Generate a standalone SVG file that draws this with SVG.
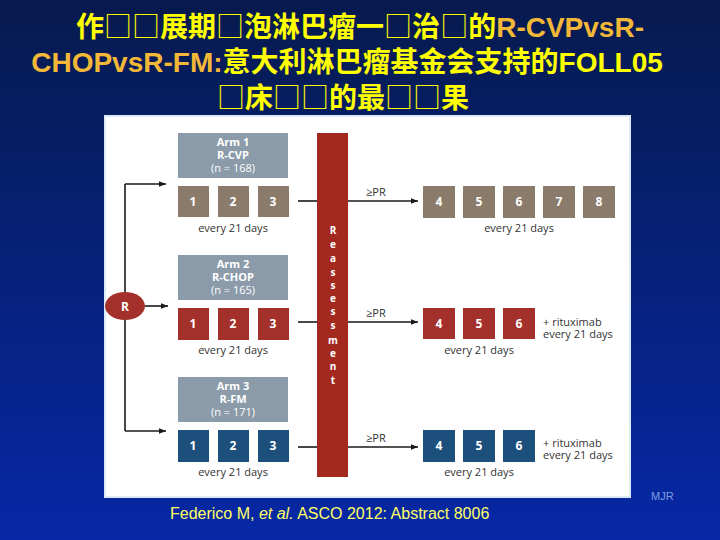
<svg xmlns="http://www.w3.org/2000/svg" width="720" height="540" viewBox="0 0 720 540">
<defs>
<linearGradient id="bg" x1="0" y1="0" x2="0" y2="1">
<stop offset="0" stop-color="#071a4e"/>
<stop offset="1" stop-color="#0628a6"/>
</linearGradient>
<marker id="arr" viewBox="0 0 10 10" refX="10" refY="5" markerWidth="7" markerHeight="7" markerUnits="userSpaceOnUse" orient="auto">
<path d="M0,1 L10,5 L0,9 Z" fill="#1a1a1a"/>
</marker>
<style>
.title{font-family:"Liberation Sans","Noto Sans CJK SC",sans-serif;font-size:28px;font-weight:bold;fill:#ffff00;text-anchor:middle}
.bx{font-family:"Noto Sans CJK SC",sans-serif;font-weight:normal}
.or{fill:#f4b838}
.arm{fill:#8b9ba9}
.armt{font-family:"Open Sans","Noto Sans",sans-serif;font-size:11px;fill:#ffffff;text-anchor:middle;font-weight:bold}
.armn{font-weight:normal}
.c1{fill:#8b7b6b}
.c2{fill:#a3302a}
.c3{fill:#1d4f7c}
.num{font-family:"Open Sans","Noto Sans",sans-serif;font-size:12px;font-weight:bold;fill:#ffffff;text-anchor:middle}
.lbl{font-family:"Open Sans","Noto Sans",sans-serif;font-size:11px;fill:#333333}
.mid{text-anchor:middle}
.ln{stroke:#1a1a1a;stroke-width:1.6;fill:none}
.bar{font-family:"Open Sans","Noto Sans",sans-serif;font-size:10px;font-weight:bold;fill:#ffffff;text-anchor:middle}
</style>
</defs>
<rect x="0" y="0" width="720" height="540" fill="url(#bg)"/>
<g id="title">
<text class="title" x="360" y="37">作<tspan class="bx">□□</tspan>展期<tspan class="bx">□</tspan>泡淋巴瘤一<tspan class="bx">□</tspan>治<tspan class="bx">□</tspan>的<tspan class="or">R-CVPvsR-</tspan></text>
<text class="title" x="347" y="72"><tspan class="or">CHOPvsR-FM:</tspan>意大利淋巴瘤基金会支持的FOLL05</text>
<text class="title" x="343" y="108"><tspan class="bx">□</tspan>床<tspan class="bx">□□</tspan>的最<tspan class="bx">□□</tspan>果</text>
</g>
<rect id="panel" x="105" y="116" width="525" height="381" fill="#ffffff" stroke="#dbeaf5" stroke-width="2"/>
<g id="connectors">
<polyline class="ln" points="125,184 125,431"/>
<line class="ln" x1="125" y1="184" x2="166" y2="184" marker-end="url(#arr)"/>
<line class="ln" x1="145" y1="306" x2="168" y2="306" marker-end="url(#arr)"/>
<line class="ln" x1="125" y1="431" x2="166" y2="431" marker-end="url(#arr)"/>
<line class="ln" x1="298" y1="201" x2="317" y2="201"/>
<line class="ln" x1="348" y1="201" x2="418" y2="201" marker-end="url(#arr)"/>
<line class="ln" x1="298" y1="322" x2="317" y2="322"/>
<line class="ln" x1="348" y1="322" x2="418" y2="322" marker-end="url(#arr)"/>
<line class="ln" x1="298" y1="447" x2="317" y2="447"/>
<line class="ln" x1="348" y1="447" x2="418" y2="447" marker-end="url(#arr)"/>
<text class="lbl" x="366" y="196" font-size="10">≥PR</text>
<text class="lbl" x="366" y="317" font-size="10">≥PR</text>
<text class="lbl" x="366" y="442" font-size="10">≥PR</text>
</g>
<g id="R">
<ellipse cx="125" cy="306" rx="20" ry="14" fill="#a3302a"/>
<text class="num" x="125" y="311">R</text>
</g>
<g id="reassessment">
<rect x="317" y="133" width="31" height="344" fill="#a3291f"/>
<text class="bar" x="333" y="234">R</text>
<text class="bar" x="333" y="248">e</text>
<text class="bar" x="333" y="262">a</text>
<text class="bar" x="333" y="276">s</text>
<text class="bar" x="333" y="289">s</text>
<text class="bar" x="333" y="302">e</text>
<text class="bar" x="333" y="315">s</text>
<text class="bar" x="333" y="329">s</text>
<text class="bar" x="333" y="344">m</text>
<text class="bar" x="333" y="357">e</text>
<text class="bar" x="333" y="370">n</text>
<text class="bar" x="333" y="384">t</text>
</g>
<g id="arm1">
<rect class="arm" x="178" y="133" width="110" height="45"/>
<text class="armt" x="233" y="146">Arm 1</text>
<text class="armt" x="233" y="159">R-CVP</text>
<text class="armt armn" x="233" y="172">(n = 168)</text>
<rect class="c1" x="178" y="186" width="31" height="31"/>
<rect class="c1" x="218" y="186" width="31" height="31"/>
<rect class="c1" x="258" y="186" width="31" height="31"/>
<text class="num" x="193" y="206">1</text>
<text class="num" x="233" y="206">2</text>
<text class="num" x="273" y="206">3</text>
<text class="lbl mid" x="233" y="232">every 21 days</text>
</g>
<g id="arm1-cont">
<rect class="c1" x="423" y="186" width="32" height="32"/>
<rect class="c1" x="463" y="186" width="32" height="32"/>
<rect class="c1" x="503" y="186" width="32" height="32"/>
<rect class="c1" x="543" y="186" width="32" height="32"/>
<rect class="c1" x="583" y="186" width="32" height="32"/>
<text class="num" x="439" y="206">4</text>
<text class="num" x="479" y="206">5</text>
<text class="num" x="519" y="206">6</text>
<text class="num" x="559" y="206">7</text>
<text class="num" x="599" y="206">8</text>
<text class="lbl mid" x="519" y="232">every 21 days</text>
</g>
<g id="arm2">
<rect class="arm" x="178" y="255" width="110" height="45"/>
<text class="armt" x="233" y="268">Arm 2</text>
<text class="armt" x="233" y="281">R-CHOP</text>
<text class="armt armn" x="233" y="294">(n = 165)</text>
<rect class="c2" x="178" y="308" width="31" height="32"/>
<rect class="c2" x="218" y="308" width="31" height="32"/>
<rect class="c2" x="258" y="308" width="31" height="32"/>
<text class="num" x="193" y="328">1</text>
<text class="num" x="233" y="328">2</text>
<text class="num" x="273" y="328">3</text>
<text class="lbl mid" x="233" y="354">every 21 days</text>
</g>
<g id="arm2-cont">
<rect class="c2" x="423" y="308" width="32" height="31"/>
<rect class="c2" x="463" y="308" width="32" height="31"/>
<rect class="c2" x="503" y="308" width="32" height="31"/>
<text class="num" x="439" y="328">4</text>
<text class="num" x="479" y="328">5</text>
<text class="num" x="519" y="328">6</text>
<text class="lbl mid" x="479" y="354">every 21 days</text>
<text class="lbl" x="543" y="326">+ rituximab</text>
<text class="lbl" x="543" y="338">every 21 days</text>
</g>
<g id="arm3">
<rect class="arm" x="178" y="377" width="110" height="45"/>
<text class="armt" x="233" y="390">Arm 3</text>
<text class="armt" x="233" y="403">R-FM</text>
<text class="armt armn" x="233" y="416">(n = 171)</text>
<rect class="c3" x="178" y="430" width="31" height="32"/>
<rect class="c3" x="218" y="430" width="31" height="32"/>
<rect class="c3" x="258" y="430" width="31" height="32"/>
<text class="num" x="193" y="450">1</text>
<text class="num" x="233" y="450">2</text>
<text class="num" x="273" y="450">3</text>
<text class="lbl mid" x="233" y="476">every 21 days</text>
</g>
<g id="arm3-cont">
<rect class="c3" x="423" y="430" width="32" height="32"/>
<rect class="c3" x="463" y="430" width="32" height="32"/>
<rect class="c3" x="503" y="430" width="32" height="32"/>
<text class="num" x="439" y="450">4</text>
<text class="num" x="479" y="450">5</text>
<text class="num" x="519" y="450">6</text>
<text class="lbl mid" x="479" y="476">every 21 days</text>
<text class="lbl" x="543" y="447">+ rituximab</text>
<text class="lbl" x="543" y="459">every 21 days</text>
</g>
<text x="170" y="519" font-family="Liberation Sans, Arial, sans-serif" font-size="16" fill="#ffff66">Federico M, <tspan font-style="italic">et al.</tspan> ASCO 2012: Abstract 8006</text>
<text x="651" y="500" font-family="Liberation Sans, Arial, sans-serif" font-size="11" fill="#7f9fe0">MJR</text>
</svg>
